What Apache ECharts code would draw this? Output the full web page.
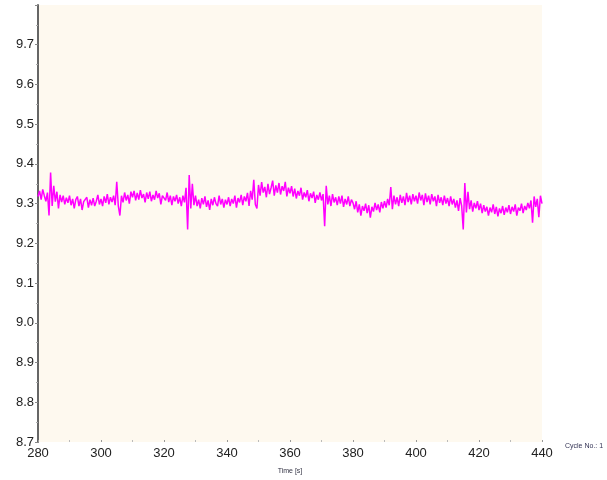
<!DOCTYPE html>
<html>
<head>
<meta charset="utf-8">
<script src="https://cdn.jsdelivr.net/npm/echarts@6/dist/echarts.min.js"></script>
<style>
  html, body { margin: 0; padding: 0; background: #ffffff; }
  #chart { width: 607px; height: 480px; }
</style>
</head>
<body>
<div id="chart"></div>
<script>
// Sampled signal: one reading every half second from 280 s to 440 s
const startTime = 280;
const sampleStep = 0.5;
const signalValues = [
  // 280-290 s
  9.318, 9.332, 9.310, 9.336, 9.320, 9.306, 9.328, 9.270, 9.378, 9.294,
  9.345, 9.305, 9.330, 9.288, 9.322, 9.304, 9.320, 9.298, 9.315, 9.302,
  // 290-300 s
  9.320, 9.296, 9.312, 9.288, 9.310, 9.318, 9.294, 9.312, 9.284, 9.305,
  9.300, 9.316, 9.290, 9.310, 9.296, 9.314, 9.294, 9.306, 9.322, 9.298,
  // 300-310 s
  9.312, 9.294, 9.318, 9.302, 9.324, 9.298, 9.316, 9.304, 9.320, 9.296,
  9.355, 9.294, 9.270, 9.320, 9.303, 9.328, 9.308, 9.322, 9.300, 9.330,
  // 310-320 s
  9.316, 9.332, 9.308, 9.327, 9.310, 9.334, 9.314, 9.324, 9.303, 9.328,
  9.312, 9.330, 9.306, 9.322, 9.310, 9.332, 9.314, 9.326, 9.298, 9.320,
  // 320-330 s
  9.324, 9.308, 9.328, 9.304, 9.320, 9.296, 9.318, 9.306, 9.322, 9.300,
  9.316, 9.294, 9.320, 9.303, 9.340, 9.235, 9.372, 9.288, 9.350, 9.296,
  // 330-340 s
  9.320, 9.294, 9.310, 9.288, 9.314, 9.298, 9.318, 9.292, 9.308, 9.284,
  9.312, 9.296, 9.316, 9.300, 9.294, 9.320, 9.298, 9.312, 9.290, 9.310,
  // 340-350 s
  9.298, 9.316, 9.294, 9.312, 9.300, 9.320, 9.290, 9.314, 9.303, 9.322,
  9.296, 9.318, 9.306, 9.327, 9.294, 9.332, 9.310, 9.360, 9.298, 9.288,
  // 350-360 s
  9.347, 9.320, 9.354, 9.328, 9.342, 9.316, 9.350, 9.324, 9.340, 9.358,
  9.320, 9.346, 9.328, 9.352, 9.323, 9.344, 9.332, 9.355, 9.318, 9.340,
  // 360-370 s
  9.326, 9.344, 9.318, 9.338, 9.313, 9.332, 9.320, 9.340, 9.310, 9.328,
  9.316, 9.334, 9.306, 9.326, 9.314, 9.330, 9.302, 9.322, 9.310, 9.328,
  // 370-380 s
  9.308, 9.324, 9.243, 9.345, 9.298, 9.320, 9.294, 9.324, 9.303, 9.316,
  9.296, 9.318, 9.300, 9.320, 9.292, 9.312, 9.298, 9.318, 9.294, 9.310,
  // 380-390 s
  9.302, 9.286, 9.306, 9.278, 9.298, 9.270, 9.294, 9.282, 9.300, 9.276,
  9.296, 9.265, 9.292, 9.280, 9.302, 9.284, 9.298, 9.278, 9.304, 9.288,
  // 390-400 s
  9.306, 9.290, 9.312, 9.296, 9.342, 9.286, 9.320, 9.298, 9.316, 9.294,
  9.322, 9.302, 9.318, 9.296, 9.327, 9.304, 9.320, 9.298, 9.324, 9.306,
  // 400-410 s
  9.320, 9.300, 9.328, 9.308, 9.322, 9.296, 9.326, 9.304, 9.320, 9.298,
  9.324, 9.306, 9.318, 9.294, 9.322, 9.302, 9.316, 9.296, 9.320, 9.300,
  // 410-420 s
  9.314, 9.294, 9.318, 9.298, 9.312, 9.290, 9.308, 9.282, 9.314, 9.294,
  9.235, 9.352, 9.278, 9.330, 9.286, 9.308, 9.280, 9.302, 9.288, 9.306,
  // 420-430 s
  9.284, 9.300, 9.276, 9.296, 9.280, 9.292, 9.270, 9.290, 9.278, 9.298,
  9.274, 9.292, 9.268, 9.288, 9.276, 9.294, 9.272, 9.290, 9.278, 9.296,
  // 430-440 s
  9.274, 9.292, 9.280, 9.298, 9.270, 9.290, 9.282, 9.300, 9.276, 9.294,
  9.284, 9.302, 9.288, 9.308, 9.252, 9.318, 9.292, 9.312, 9.266, 9.320,
  9.300
];

const xAxisRange = [280, 440];
const xTickStep = 20;
const yAxisRange = [8.7, 9.8];
const yTickStep = 0.1;
const yTickLabels = ['8.7', '8.8', '8.9', '9.0', '9.1', '9.2', '9.3', '9.4', '9.5', '9.6', '9.7'];
const xAxisTitle = 'Time [s]';
const cycleText = 'Cycle No.: 1';

const seriesData = signalValues.map((v, i) => [startTime + i * sampleStep, v]);

const chart = echarts.init(document.getElementById('chart'), null, { renderer: 'canvas' });
const labelFont = { fontFamily: 'Liberation Sans, Arial, sans-serif', fontSize: 13, color: '#222222' };

chart.setOption({
  animation: false,
  backgroundColor: '#ffffff',
  grid: {
    left: 38, right: 65, top: 5, bottom: 37,
    show: true, backgroundColor: '#fef9ef', borderWidth: 0
  },
  xAxis: {
    type: 'value',
    min: xAxisRange[0], max: xAxisRange[1], interval: xTickStep,
    name: xAxisTitle,
    nameLocation: 'middle',
    nameGap: 26,
    nameTextStyle: { fontFamily: 'Liberation Sans, Arial, sans-serif', fontSize: 7, color: '#333344' },
    axisLine: { show: false },
    axisTick: { show: true, inside: true, length: 2, lineStyle: { color: '#999999', width: 1 } },
    minorTick: { show: true, splitNumber: 2, length: 2, lineStyle: { color: '#bbbbbb' } },
    splitLine: { show: false },
    axisLabel: Object.assign({ margin: 5 }, labelFont)
  },
  yAxis: {
    type: 'value',
    min: yAxisRange[0], max: yAxisRange[1], interval: yTickStep,
    axisLine: { show: true, lineStyle: { color: '#666666', width: 2 } },
    axisTick: { show: true, length: 3, lineStyle: { color: '#888888' } },
    minorTick: { show: true, splitNumber: 2, length: 2, lineStyle: { color: '#aaaaaa' } },
    splitLine: { show: false },
    axisLabel: Object.assign({
      margin: 4,
      formatter: function (v) {
        const s = v.toFixed(1);
        return yTickLabels.indexOf(s) >= 0 ? s : '';
      }
    }, labelFont)
  },
  graphic: [{
    type: 'text',
    left: 565, top: 443,
    style: { text: cycleText, font: '7px Liberation Sans, Arial, sans-serif', fill: '#333355' }
  }],
  series: [{
    type: 'line',
    data: seriesData,
    showSymbol: false,
    lineStyle: { color: '#ff00ff', width: 1.5 },
    itemStyle: { color: '#ff00ff' }
  }]
});
</script>
</body>
</html>
